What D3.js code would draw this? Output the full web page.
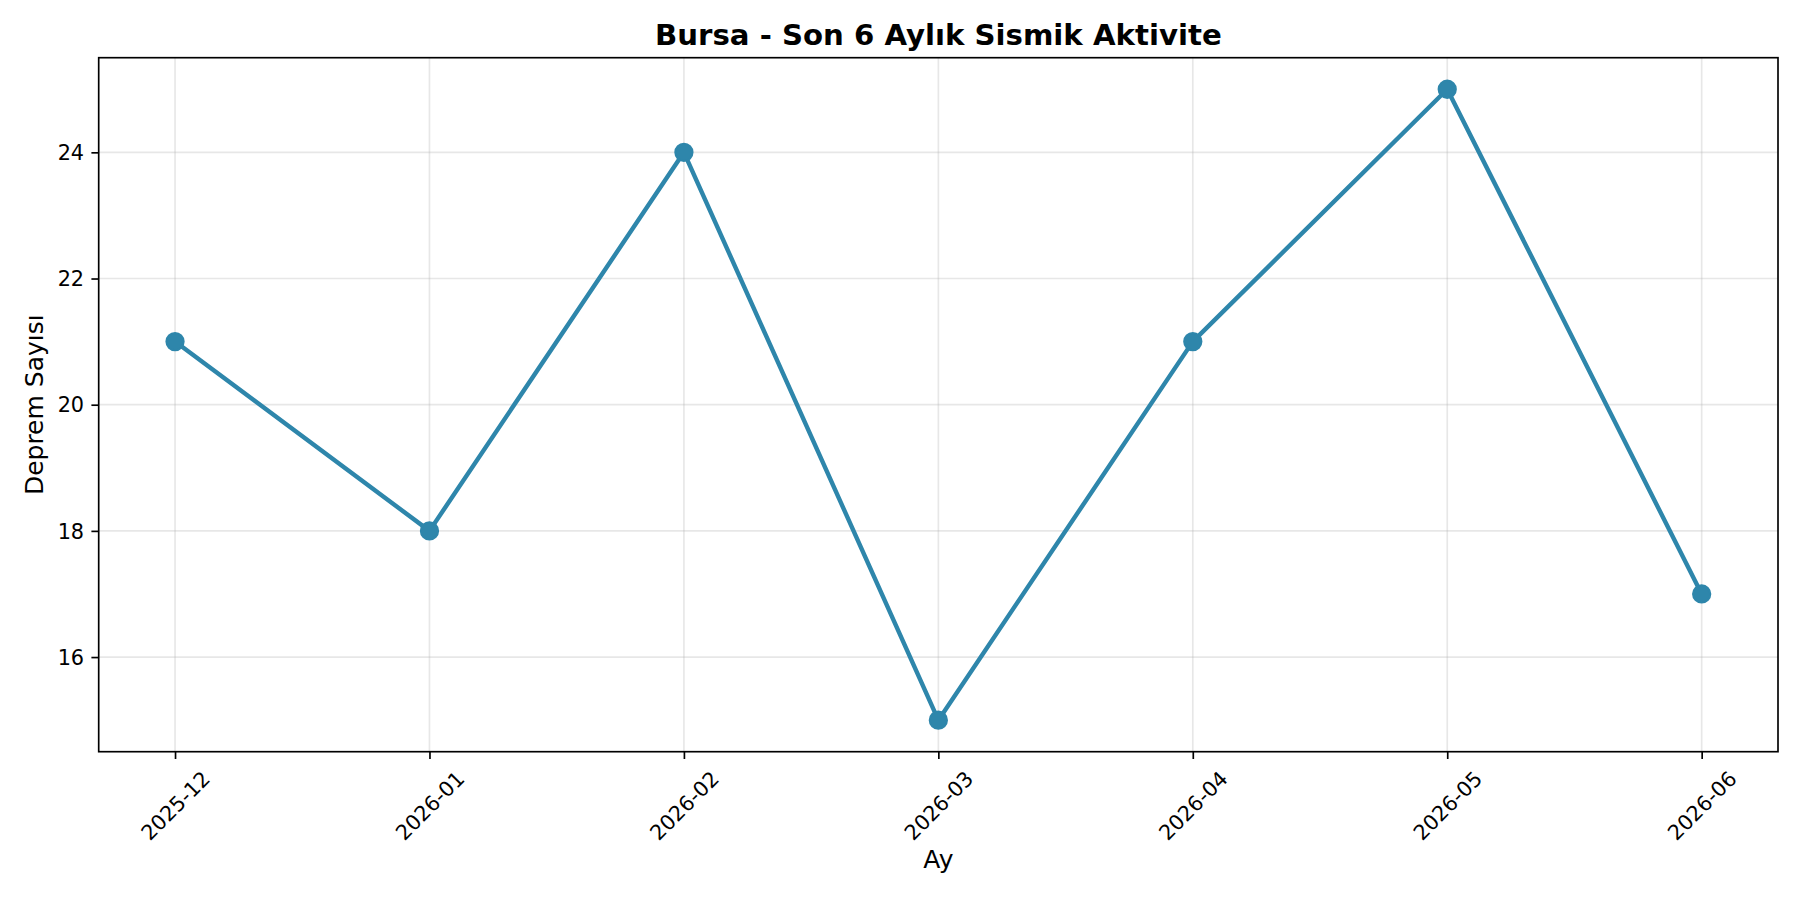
<!DOCTYPE html>
<html>
<head>
<meta charset="utf-8">
<script src="https://cdn.jsdelivr.net/npm/d3@7"></script>
<style>
  body { margin: 0; background: #fff; }
  text { font-family: "DejaVu Sans", sans-serif; fill: #000; }
</style>
</head>
<body>
<div id="chart"></div>
<script>
// data
const months = ["2025-12", "2026-01", "2026-02", "2026-03", "2026-04", "2026-05", "2026-06"];
const counts = [21, 18, 24, 15, 21, 25, 17];
const yTicks = [16, 18, 20, 22, 24];

const chartTitle = "Bursa - Son 6 Aylık Sismik Aktivite";
const xTitle = "Ay";
const yTitle = "Deprem Sayısı";

const width = 1800;
const height = 900;
const margin = { top: 57.7, right: 22, bottom: 148.3, left: 98.7 };
const lineColor = "#2E86AB";

const svg = d3.select("#chart")
  .append("svg")
  .attr("width", width)
  .attr("height", height);

const x = d3.scalePoint()
  .domain(months)
  .range([margin.left, width - margin.right])
  .padding(0.3);

const y = d3.scaleLinear()
  .domain([14.5, 25.5])
  .range([height - margin.bottom, margin.top]);

const plotBottom = height - margin.bottom;
const plotRight = width - margin.right;

// grid
const grid = svg.append("g")
  .attr("stroke", "#b0b0b0")
  .attr("stroke-opacity", 0.3)
  .attr("stroke-width", 1.67);

grid.selectAll(".vgrid")
  .data(months)
  .enter()
  .append("line")
  .attr("class", "vgrid")
  .attr("x1", d => x(d))
  .attr("x2", d => x(d))
  .attr("y1", margin.top)
  .attr("y2", plotBottom);

grid.selectAll(".hgrid")
  .data(yTicks)
  .enter()
  .append("line")
  .attr("class", "hgrid")
  .attr("x1", margin.left)
  .attr("x2", plotRight)
  .attr("y1", d => y(d))
  .attr("y2", d => y(d));

// x axis
const xAxis = svg.append("g")
  .attr("transform", `translate(0, ${plotBottom})`)
  .call(d3.axisBottom(x).tickSize(7.3).tickPadding(7.3));

xAxis.select(".domain").remove();
xAxis.selectAll(".tick line").attr("stroke", "#000").attr("stroke-width", 1.67);

const tickFont = 20.8;
const textH = tickFont * 1.17;
xAxis.selectAll(".tick text")
  .attr("font-size", tickFont)
  .attr("font-family", "DejaVu Sans")
  .attr("text-anchor", "middle")
  .attr("dy", null)
  .attr("y", null)
  .each(function () {
    const w = this.getComputedTextLength();
    const cy = 14.6 + (w + textH) / (2 * Math.SQRT2);
    d3.select(this)
      .attr("transform", `translate(0, ${cy}) rotate(-45)`)
      .attr("dy", "0.35em");
  });

// y axis
const yAxis = svg.append("g")
  .attr("transform", `translate(${margin.left}, 0)`)
  .call(d3.axisLeft(y).tickValues(yTicks).tickSize(7.3).tickPadding(7.3));

yAxis.select(".domain").remove();
yAxis.selectAll(".tick line").attr("stroke", "#000").attr("stroke-width", 1.67);
yAxis.selectAll(".tick text")
  .attr("font-size", tickFont)
  .attr("font-family", "DejaVu Sans")
  .attr("dy", "0.35em");

// line + markers
const line = d3.line()
  .x((d, i) => x(months[i]))
  .y(d => y(d));

svg.append("path")
  .datum(counts)
  .attr("d", line)
  .attr("fill", "none")
  .attr("stroke", lineColor)
  .attr("stroke-width", 4.4)
  .attr("stroke-linejoin", "round")
  .attr("stroke-linecap", "butt");

svg.selectAll(".dot")
  .data(counts)
  .enter()
  .append("circle")
  .attr("class", "dot")
  .attr("cx", (d, i) => x(months[i]))
  .attr("cy", d => y(d))
  .attr("r", 8.6)
  .attr("fill", lineColor)
  .attr("stroke", lineColor)
  .attr("stroke-width", 2.08);

// frame
svg.append("rect")
  .attr("x", margin.left)
  .attr("y", margin.top)
  .attr("width", plotRight - margin.left)
  .attr("height", plotBottom - margin.top)
  .attr("fill", "none")
  .attr("stroke", "#000")
  .attr("stroke-width", 1.67);

// titles
const midX = (margin.left + plotRight) / 2;

svg.append("text")
  .attr("x", midX)
  .attr("y", 45.2)
  .attr("text-anchor", "middle")
  .attr("font-size", 29.2)
  .attr("font-weight", "bold")
  .text(chartTitle);

svg.append("text")
  .attr("x", midX)
  .attr("y", 868.3)
  .attr("text-anchor", "middle")
  .attr("font-size", 25)
  .text(xTitle);

svg.append("text")
  .attr("transform", `translate(43.4, ${(margin.top + plotBottom) / 2}) rotate(-90)`)
  .attr("text-anchor", "middle")
  .attr("font-size", 25)
  .text(yTitle);
</script>
</body>
</html>
